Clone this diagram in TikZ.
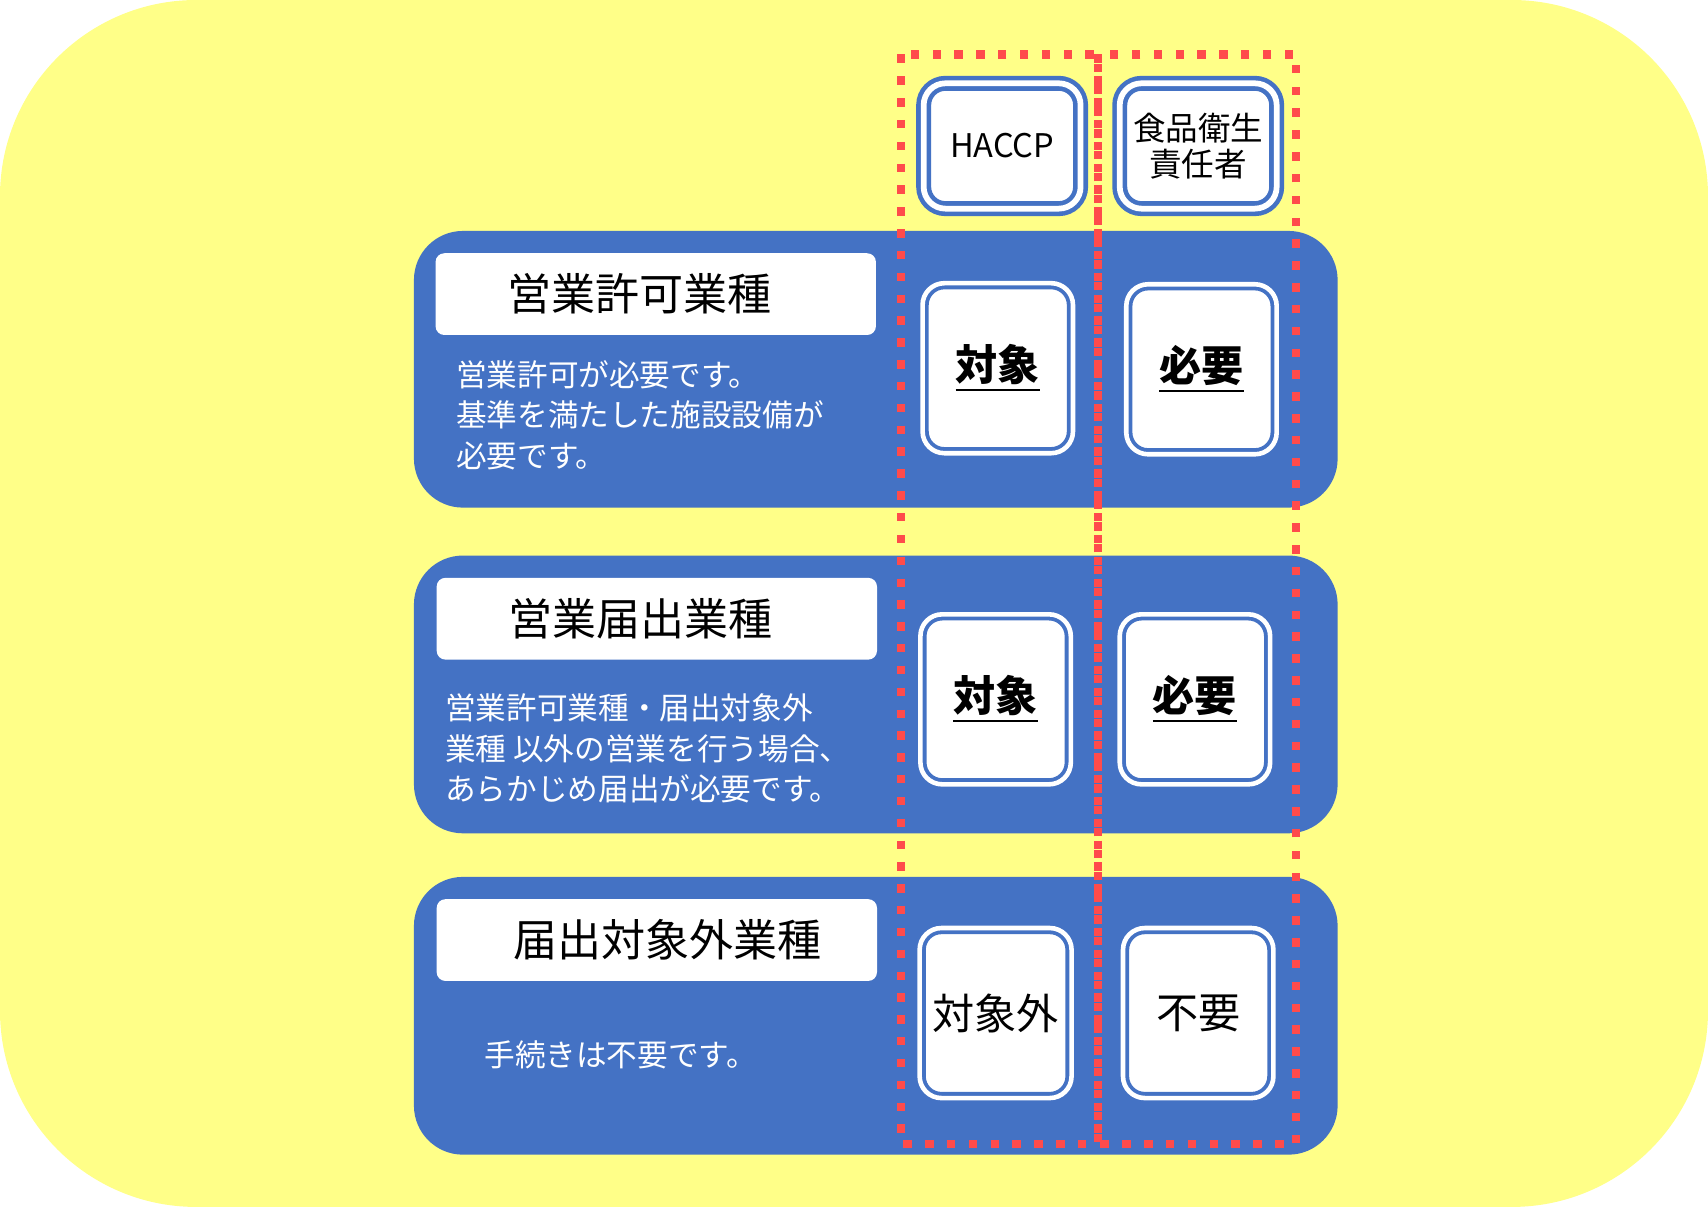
\documentclass[tikz,border=0pt]{standalone}
\usepackage{fontspec}
\setmainfont{Noto Sans CJK JP}
\usetikzlibrary{positioning}
\definecolor{bgyellow}{RGB}{255,255,136}
\definecolor{panelblue}{RGB}{68,114,196}
\definecolor{dotred}{RGB}{255,75,75}
\begin{document}
\begin{tikzpicture}[x=0.01cm,y=-0.01cm,
    panel/.style={fill=panelblue,rounded corners=0.45cm},
    title/.style={fill=white,rounded corners=0.08cm,minimum width=4.04cm,minimum height=0.75cm,font=\fontsize{11.5}{13}\selectfont},
    desc/.style={text=white,align=left,anchor=north west,font=\fontsize{8}{10.6}\selectfont,inner sep=0pt},
    cell/.style={fill=white,draw=panelblue,double=white,double distance=1.2pt,line width=1pt,rounded corners=0.2cm,minimum width=1.38cm,minimum height=1.56cm,font=\fontsize{11}{13}\selectfont},
    head/.style={fill=white,draw=panelblue,double=white,double distance=1.5pt,line width=1.2pt,rounded corners=0.2cm,minimum width=1.44cm,minimum height=1.15cm,font=\fontsize{8.5}{9.5}\selectfont,align=center},
    redline/.style={draw=dotred,line width=2.2pt,dash pattern=on 2.2pt off 3.5pt}
]
% background
\fill[bgyellow,rounded corners=1.8cm] (0,0) rectangle (1568,1108);
% panels
\fill[panel] (380,212) rectangle (1228,466);
\fill[panel] (380,510) rectangle (1228,765);
\fill[panel] (380,805) rectangle (1228,1060);
% titles
\node[title] (t1) at (602,270) {\hspace*{-0.3cm}営業許可業種};
\node[title] (t2) at (603,568) {\hspace*{-0.3cm}営業届出業種};
\node[title] (t3) at (603,863) {\hspace*{0.2cm}届出対象外業種};
% descriptions
\node[desc] (d1) at (418,330) {営業許可が必要です。\\基準を満たした施設設備が\\必要です。};
\node[desc] (d2) at (408,636) {営業許可業種・届出対象外\\業種 以外の営業を行う場合、\\あらかじめ届出が必要です。};
\node[desc] (d3) at (444,955) {手続きは不要です。};
% headers
\node[head] (hh) at (920,134) {HACCP};
\node[head] (hs) at (1100,134) {食品衛生\\責任者};
% cells
\node[cell] (c11) at (916,338) {\bfseries\underline{対象}};
\node[cell] (c12) at (1103,339) {\bfseries\underline{必要}};
\node[cell] (c21) at (914,642) {\bfseries\underline{対象}};
\node[cell] (c22) at (1097,642) {\bfseries\underline{必要}};
\node[cell] (c31) at (914,930) {対象外};
\node[cell] (c32) at (1100,930) {不要};
% dotted frames
\draw[redline] (827,50) rectangle (1008,1050);
\draw[redline] (1008,50) rectangle (1190,1050);
\end{tikzpicture}
\end{document}
